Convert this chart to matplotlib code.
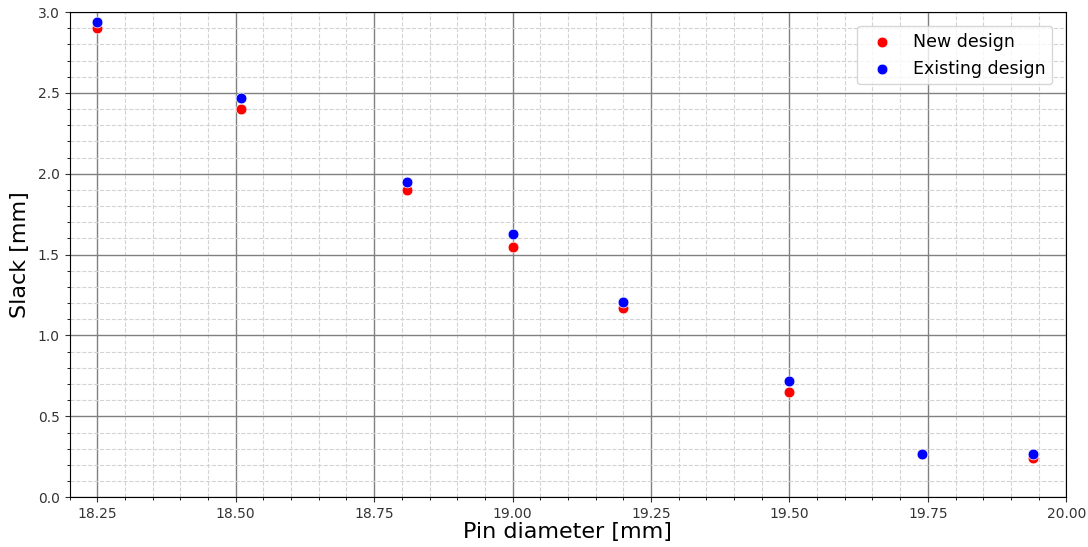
import matplotlib
matplotlib.use("Agg")
import matplotlib.pyplot as plt
from matplotlib.ticker import MultipleLocator

pin_diameter = [18.25, 18.51, 18.81, 19.00, 19.20, 19.50, 19.74, 19.94]
slack_new = [2.90, 2.40, 1.90, 1.55, 1.17, 0.65, 0.27, 0.24]
slack_existing = [2.94, 2.47, 1.95, 1.63, 1.21, 0.72, 0.27, 0.27]

fig = plt.figure(figsize=(10.88, 5.47), dpi=100)
ax = fig.add_axes([0.064, 0.091, 0.916, 0.887])

ax.scatter(pin_diameter, slack_new, s=60, color='red', edgecolors='white',
           linewidths=0.5, label='New design', zorder=3)
ax.scatter(pin_diameter, slack_existing, s=60, color='blue', edgecolors='white',
           linewidths=0.5, label='Existing design', zorder=3)

ax.set_xlim(18.2, 20.0)
ax.set_ylim(0, 3.0)
ax.xaxis.set_major_locator(MultipleLocator(0.25))
ax.xaxis.set_minor_locator(MultipleLocator(0.05))
ax.yaxis.set_major_locator(MultipleLocator(0.5))
ax.yaxis.set_minor_locator(MultipleLocator(0.1))

ax.grid(which='major', color='gray', linestyle='-', linewidth=1.0)
ax.grid(which='minor', color='lightgray', linestyle='--', linewidth=0.8)
ax.set_axisbelow(True)

ax.tick_params(labelsize=10, colors='#333333')
ax.set_xlabel('Pin diameter [mm]', fontsize=16, labelpad=1)
ax.set_ylabel('Slack [mm]', fontsize=16, labelpad=6)
ax.legend(loc='upper right', fontsize=12.5, borderaxespad=0.8)

plt.savefig('out.png')
